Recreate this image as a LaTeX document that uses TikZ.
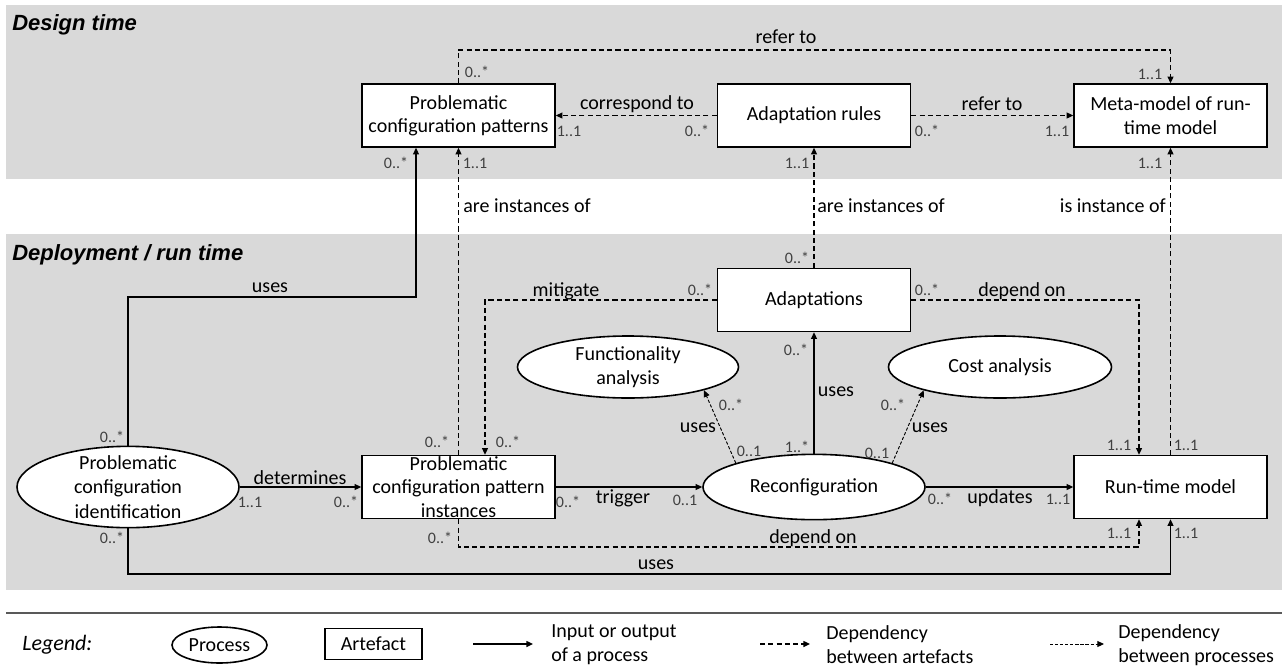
\documentclass[tikz,border=0pt]{standalone}
\usepackage{fontspec}
\setmainfont{Carlito}
\newfontfamily\titlefont{Liberation Sans}
\usetikzlibrary{shapes.geometric,arrows.meta}

\definecolor{panelgray}{HTML}{D9D9D9}
\definecolor{multgray}{HTML}{404040}
\definecolor{rulegray}{HTML}{595959}

\tikzset{
  txt/.style={font=\fontsize{15}{18}\selectfont, inner sep=0pt, align=center},
  mult/.style={font=\fontsize{12}{14}\selectfont, text=multgray, inner sep=0pt},
  paneltitle/.style={font=\titlefont\fontsize{16.5}{20}\selectfont\bfseries\itshape, anchor=west, inner sep=0pt},
  artefact/.style={draw, line width=1.2pt, fill=white, minimum width=144.75pt, minimum height=47.25pt,
    inner sep=0pt, align=center, font=\fontsize{15}{17.5}\selectfont},
  process/.style={draw, line width=1.2pt, fill=white, ellipse, inner sep=0pt},
  tip/.style={-{Triangle[length=5pt,width=4.5pt]}},
  flow/.style={draw, line width=1pt, tip},
  dep/.style={flow, dash pattern=on 3.8pt off 2.4pt},
  pdep/.style={draw, line width=0.7pt, tip, dash pattern=on 2.4pt off 1.4pt},
}

\begin{document}
\begin{tikzpicture}[x=0.75pt, y=-0.75pt]
\useasboundingbox (0,0) rectangle (1288,668);

% panels
\fill[panelgray] (6,5) rectangle (1282,179);
\fill[panelgray] (6,234) rectangle (1282,590);
\draw[rulegray, line width=1pt] (6,613) -- (1282,613);

\node[paneltitle] (t1) at (12,25) {Design time};
\node[paneltitle] (t2) at (12,255) {Deployment / run time};

% artefacts
\node[artefact] (pcp)   at (458.5,115.5) {Problematic\\configuration patterns};
\node[artefact] (ar)    at (814,115.5)   {Adaptation rules};
\node[artefact] (mm)    at (1170.5,115.5){Meta-model of run-\\time model};
\node[artefact] (adapt) at (814,300)     {Adaptations};
\node[artefact] (pcpi)  at (458.5,487)   {Problematic\\configuration pattern\\instances};
\node[artefact] (rtm)   at (1170.5,487)  {Run-time model};

% processes
\node[process, minimum width=166.5pt, minimum height=61pt,
  label={[txt, font=\fontsize{15}{18.4}\selectfont]center:Problematic\\configuration\\identification}] (pci) at (128,487) {};
\node[process, minimum width=165.75pt, minimum height=46.5pt,
  label={[txt]center:Functionality\\analysis}] (fa) at (628,367) {};
\node[process, minimum width=167.25pt, minimum height=46.5pt,
  label={[txt]center:Cost analysis}] (ca) at (1000,367) {};
\node[process, minimum width=166.5pt, minimum height=49pt,
  label={[txt]center:Reconfiguration}] (rc) at (814,487) {};

% routing helpers
\coordinate (topline) at (0,50);
\coordinate (usesline) at (0,297);
\coordinate (pcpin) at (416,0);
\coordinate (mitx) at (485,0);
\coordinate (rtmleft) at (1139,0);
\coordinate (deprow) at (0,547);
\coordinate (usesrow) at (0,574);

% design-time dependencies
\draw[dep] (pcp.north) -- (pcp.north |- topline) -| (mm.north);
\draw[dep] (ar.west) -- (pcp.east);
\draw[dep] (ar.east) -- (mm.west);

% instance-of relations
\draw[dep] (pcpi.north) -- (pcp.south);
\draw[dep] (adapt.north) -- (ar.south);
\draw[dep] (rtm.north) -- (mm.south);

% run-time relations
\draw[flow] (pci.north) -- (pci.north |- usesline) -| (pcp.south -| pcpin);
\draw[dep] (adapt.west) -| (pcpi.north -| mitx);
\draw[dep] (adapt.east) -| (rtm.north -| rtmleft);
\draw[flow] (pci.east) -- (pcpi.west);
\draw[flow] (pcpi.east) -- (rc.west);
\draw[flow] (rc.east) -- (rtm.west);
\draw[flow] (rc.north) -- (adapt.south);
\draw[pdep] (rc.163) -- (fa.-17.5);
\draw[pdep] (rc.17) -- (ca.197.5);
\draw[dep] (pcpi.south) -- (pcpi.south |- deprow) -| (rtm.south -| rtmleft);
\draw[flow] (pci.south) -- (pci.south |- usesrow) -| (rtm.south);

% connector labels
\node[txt] (l1)  at (786,37)   {refer to};
\node[txt] (l2)  at (637,104)  {correspond to};
\node[txt] (l3)  at (992,104)  {refer to};
\node[txt, anchor=west] (l4) at (463,206) {are instances of};
\node[txt, anchor=west] (l5) at (817,206) {are instances of};
\node[txt, anchor=east] (l6) at (1166,206) {is instance of};
\node[txt] (l7)  at (270,288)  {uses};
\node[txt] (l8)  at (566,291)  {mitigate};
\node[txt] (l9)  at (1022,291) {depend on};
\node[txt] (l10) at (698,428)  {uses};
\node[txt] (l11) at (836,392)  {uses};
\node[txt] (l12) at (930,428)  {uses};
\node[txt] (l13) at (300,478)  {determines};
\node[txt] (l14) at (623,498)  {trigger};
\node[txt] (l15) at (1000,498) {updates};
\node[txt] (l16) at (813,538)  {depend on};
\node[txt] (l17) at (656,565)  {uses};

% multiplicities
\node[mult] (m1)  at (477,72)   {0..*};
\node[mult] (m2)  at (1150,74)  {1..1};
\node[mult] (m3)  at (569,131)  {1..1};
\node[mult] (m4)  at (697,131)  {0..*};
\node[mult] (m5)  at (927,131)  {0..*};
\node[mult] (m6)  at (1057,131) {1..1};
\node[mult] (m7)  at (396,163)  {0..*};
\node[mult] (m8)  at (475,163)  {1..1};
\node[mult] (m9)  at (797,163)  {1..1};
\node[mult] (m10) at (1150,163) {1..1};
\node[mult] (m11) at (797,258)  {0..*};
\node[mult] (m12) at (700,290)  {0..*};
\node[mult] (m13) at (927,290)  {0..*};
\node[mult] (m14) at (796,350)  {0..*};
\node[mult] (m15) at (731,405)  {0..*};
\node[mult] (m16) at (893,405)  {0..*};
\node[mult] (m17) at (749,451)  {0..1};
\node[mult] (m18) at (797,447)  {1..*};
\node[mult] (m19) at (877,453)  {0..1};
\node[mult] (m20) at (437,442)  {0..*};
\node[mult] (m21) at (508,442)  {0..*};
\node[mult] (m22) at (112,437)  {0..*};
\node[mult] (m23) at (250,502)  {1..1};
\node[mult] (m24) at (346,502)  {0..*};
\node[mult] (m25) at (568,502)  {0..*};
\node[mult] (m26) at (685,500)  {0..1};
\node[mult] (m27) at (940,499)  {0..*};
\node[mult] (m28) at (1058,499) {1..1};
\node[mult] (m29) at (1119,445) {1..1};
\node[mult] (m30) at (1186,445) {1..1};
\node[mult] (m31) at (112,538)  {0..*};
\node[mult] (m32) at (440,538)  {0..*};
\node[mult] (m33) at (1119,533) {1..1};
\node[mult] (m34) at (1186,533) {1..1};

% legend
\node[txt, font=\fontsize{16.5}{20}\selectfont\itshape, anchor=west] (lg) at (22,645) {Legend:};
\node[process, minimum width=71.25pt, minimum height=27pt,
  label={[txt]center:Process}] (lgp) at (219.5,645) {};
\node[artefact, minimum width=72.75pt, minimum height=23.25pt] (lga) at (373.5,644) {Artefact};
\coordinate (la1) at (473,644);
\coordinate (la2) at (533,644);
\draw[flow] (la1) -- (la2);
\node[txt, anchor=west, align=left] (lt1) at (551,645) {Input or output\\of a process};
\coordinate (lb1) at (760,644);
\coordinate (lb2) at (810,644);
\draw[dep] (lb1) -- (lb2);
\node[txt, anchor=west, align=left] (lt2) at (826,645) {Dependency\\between artefacts};
\coordinate (lc1) at (1050,644);
\coordinate (lc2) at (1104,644);
\draw[pdep] (lc1) -- (lc2);
\node[txt, anchor=west, align=left] (lt3) at (1118,645) {Dependency\\between processes};
\end{tikzpicture}
\end{document}
